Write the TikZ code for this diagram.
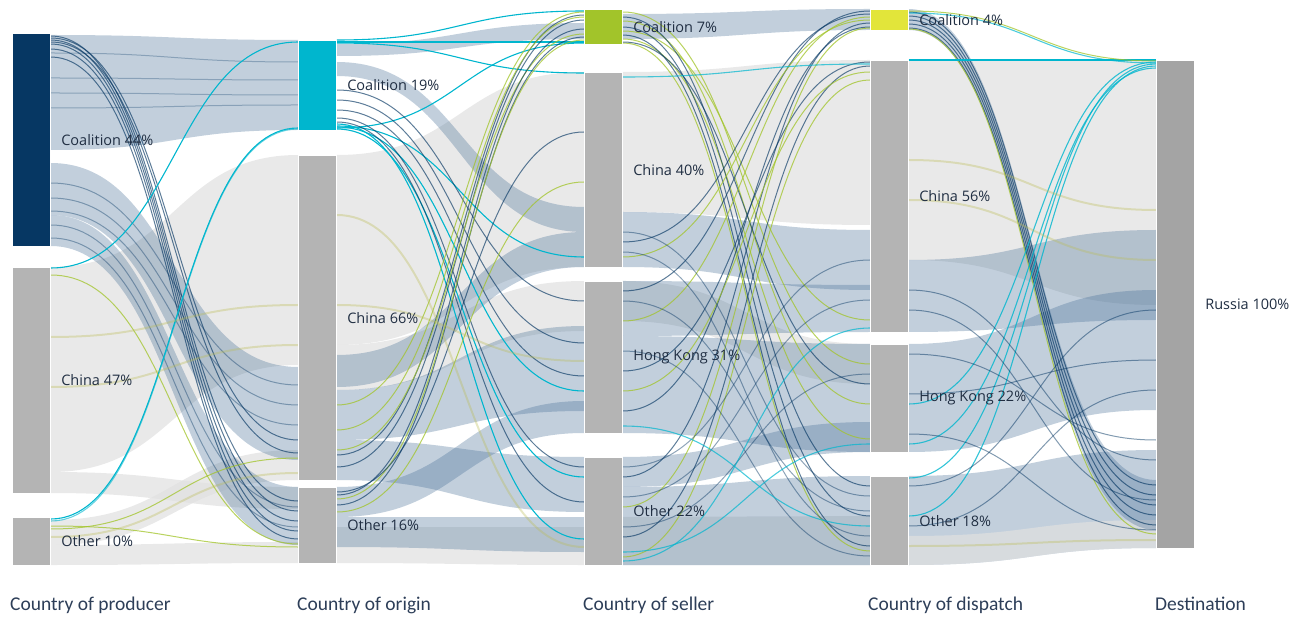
\documentclass[tikz,border=0pt]{standalone}
\usepackage{fontspec}
\setmainfont{Carlito}
\newfontfamily\lblfont{Open Sans}
\pgfdeclarelayer{flows}
\pgfsetlayers{flows,main}
\definecolor{navy}{RGB}{6,55,99}
\definecolor{coalcyan}{RGB}{0,182,206}
\definecolor{coalgreen}{RGB}{162,196,42}
\definecolor{coalyellow}{RGB}{226,229,58}
\definecolor{bargray}{RGB}{180,180,180}
\definecolor{rusgray}{RGB}{164,164,164}
\definecolor{flowblue}{RGB}{70,110,150}
\definecolor{ttlblue}{RGB}{45,62,88}
\definecolor{lblink}{RGB}{32,46,66}
% band from one bar to the next: src, top, bottom, dst, top, bottom, style
\newcommand\band[7]{\fill[#7] ([yshift={-#2*1pt}]#1.north east) .. controls +(124,0) and +(-124,0) .. ([yshift={-#5*1pt}]#4.north west) -- ([yshift={-#6*1pt}]#4.north west) .. controls +(-124,0) and +(124,0) .. ([yshift={-#3*1pt}]#1.north east) -- cycle;}
% single thin strand: src, offset, dst, offset, style
\newcommand\strand[5]{\draw[#5] ([yshift={-#2*1pt}]#1.north east) .. controls +(124,0) and +(-124,0) .. ([yshift={-#4*1pt}]#3.north west);}

\begin{document}
\begin{tikzpicture}[x=1pt,y=-1pt,
  barbox/.style={anchor=north west, minimum width=38pt, inner sep=0pt, draw=white, line width=.8pt},
  lbl/.style={label distance=7pt, font=\lblfont\fontsize{14.5}{16}\selectfont, text=lblink},
  ttl/.style={anchor=base west, inner sep=0pt, font=\fontsize{19.5}{22}\selectfont, text=ttlblue},
  graybnd/.style={fill=black!12, fill opacity=.7},
  bluebnd/.style={fill=flowblue, fill opacity=.33},
  navyln/.style={draw=navy, draw opacity=.65, line width=1pt},
  cyanln/.style={draw=coalcyan, line width=1.1pt},
  greenln/.style={draw=coalgreen, draw opacity=.75, line width=1pt},
  paleln/.style={draw=coalyellow!60!gray, draw opacity=.35, line width=2pt}]
\useasboundingbox (0,0) rectangle (1301,617);

% bars
\node[barbox, fill=navy, minimum height=213pt, label={[lbl]right:Coalition 44\%}] (p1) at (12,33) {};
\node[barbox, fill=bargray, minimum height=226pt, label={[lbl]right:China 47\%}] (p2) at (12,267) {};
\node[barbox, fill=bargray, minimum height=48pt, label={[lbl]right:Other 10\%}] (p3) at (12,517) {};
\node[barbox, fill=coalcyan, minimum height=90pt, label={[lbl]right:Coalition 19\%}] (o1) at (298,40) {};
\node[barbox, fill=bargray, minimum height=325pt, label={[lbl]right:China 66\%}] (o2) at (298,155) {};
\node[barbox, fill=bargray, minimum height=76pt, label={[lbl]right:Other 16\%}] (o3) at (298,487) {};
\node[barbox, fill=coalgreen, minimum height=35pt, label={[lbl]right:Coalition 7\%}] (s1) at (584,9) {};
\node[barbox, fill=bargray, minimum height=195pt, label={[lbl]right:China 40\%}] (s2) at (584,72) {};
\node[barbox, fill=bargray, minimum height=152pt, label={[lbl]right:Hong Kong 31\%}] (s3) at (584,281) {};
\node[barbox, fill=bargray, minimum height=108pt, label={[lbl]right:Other 22\%}] (s4) at (584,457) {};
\node[barbox, fill=coalyellow, minimum height=21pt, label={[lbl]right:Coalition 4\%}] (d1) at (870,9) {};
\node[barbox, fill=bargray, minimum height=272pt, label={[lbl]right:China 56\%}] (d2) at (870,60) {};
\node[barbox, fill=bargray, minimum height=108pt, label={[lbl]right:Hong Kong 22\%}] (d3) at (870,344) {};
\node[barbox, fill=bargray, minimum height=89pt, label={[lbl]right:Other 18\%}] (d4) at (870,476) {};
\node[barbox, fill=rusgray, minimum height=488pt, label={[lbl]right:Russia 100\%}] (r) at (1156,60) {};

% column titles
\node[ttl] (t1) at (10,610) {Country of producer};
\node[ttl] (t2) at (297,610) {Country of origin};
\node[ttl] (t3) at (583,610) {Country of seller};
\node[ttl] (t4) at (868,610) {Country of dispatch};
\node[ttl] (t5) at (1155,610) {Destination};

\begin{pgfonlayer}{flows}
% producer -> origin
\band{p2}{0}{205}{o2}{0}{210}{graybnd}
\band{p2}{205}{226}{o3}{0}{22}{graybnd}
\band{p3}{3}{28}{o2}{295}{325}{graybnd}
\band{p3}{28}{48}{o3}{55}{76}{graybnd}
\band{p1}{2}{117}{o1}{0}{90}{bluebnd}
\band{p1}{130}{182}{o2}{212}{305}{bluebnd}
\band{p1}{182}{213}{o3}{0}{58}{bluebnd}
\foreach \a/\b in {20/22,45/40,60/55,75/65} {\strand{p1}{\a}{o1}{\b}{navyln, draw opacity=.3}}
\foreach \a/\b in {150/230,165/250,178/270,192/20,205/40} {\strand{p1}{\a}{\ifnum\b<100 o3\else o2\fi}{\b}{navyln, draw opacity=.4}}
\foreach \a/\b in {3/14,7/24,11/34,16/44,24/52} {\strand{p1}{\a}{o3}{\b}{navyln}}
\foreach \a/\b in {5/285,9/298} {\strand{p1}{\a}{o2}{\b}{navyln}}
\strand{p2}{1}{o1}{2}{cyanln}
\strand{p3}{2}{o1}{88}{cyanln}
\strand{p3}{4}{o1}{89}{cyanln, draw opacity=.6}
\strand{p2}{8}{o3}{57}{greenln}
\strand{p2}{70}{o2}{150}{paleln}
\strand{p2}{120}{o2}{190}{paleln}
\strand{p3}{12}{o2}{303}{greenln}
\strand{p3}{9}{o3}{60}{greenln}
\strand{p3}{20}{o2}{318}{paleln}

% origin -> seller
\band{o2}{0}{190}{s2}{0}{195}{graybnd}
\band{o2}{190}{235}{s3}{0}{50}{graybnd}
\band{o3}{40}{76}{s4}{70}{108}{graybnd}
\band{o1}{4}{16}{s1}{14}{30}{bluebnd}
\band{o1}{22}{36}{s2}{135}{160}{bluebnd}
\band{o2}{200}{232}{s2}{160}{195}{bluebnd}
\band{o2}{235}{285}{s3}{45}{130}{bluebnd}
\band{o2}{285}{325}{s4}{0}{55}{bluebnd}
\band{o3}{0}{30}{s3}{120}{152}{bluebnd}
\band{o3}{30}{60}{s4}{60}{95}{bluebnd}
\strand{o1}{0}{s1}{2}{cyanln}
\strand{o1}{2}{s1}{33}{cyanln}
\strand{o1}{3}{s2}{1}{cyanln}
\strand{o1}{88}{s1}{34}{cyanln}
\strand{o1}{86}{s2}{185}{cyanln}
\strand{o1}{87}{s3}{110}{cyanln}
\strand{o1}{89}{s4}{20}{cyanln}
\strand{o1}{84}{s4}{82}{cyanln}
\foreach \a/\b in {50/20,60/62,70/95} {\strand{o1}{\a}{s3}{\b}{navyln}}
\foreach \a/\b in {78/10,82/45} {\strand{o1}{\a}{s4}{\b}{navyln}}
\foreach \a/\b in {300/6,312/11} {\strand{o2}{\a}{s1}{\b}{navyln}}
\foreach \a/\b in {250/3,275/8,295/25} {\strand{o2}{\a}{s1}{\b}{greenln}}
\foreach \a/\b in {8/20,18/28} {\strand{o3}{\a}{s1}{\b}{navyln}}
\strand{o3}{12}{s1}{31}{greenln}
\strand{o3}{25}{s2}{110}{greenln}
\strand{o3}{5}{s2}{60}{navyln}
\strand{o2}{150}{s3}{80}{paleln}
\strand{o2}{60}{s4}{90}{paleln}

% seller -> dispatch
\band{s2}{0}{140}{d2}{0}{165}{graybnd}
\band{s3}{0}{40}{d3}{0}{40}{graybnd}
\band{s4}{60}{108}{d4}{40}{89}{graybnd}
\band{s1}{5}{30}{d1}{0}{21}{bluebnd}
\band{s2}{140}{195}{d2}{170}{230}{bluebnd}
\band{s3}{0}{55}{d2}{225}{272}{bluebnd}
\band{s3}{55}{152}{d3}{0}{108}{bluebnd}
\band{s4}{0}{30}{d3}{78}{108}{bluebnd}
\band{s4}{30}{108}{d4}{0}{89}{bluebnd}
\foreach \a/\d/\b in {3/d3/20,12/d3/60,22/d2/260,30/d3/95,34/d4/75} {\strand{s1}{\a}{\d}{\b}{greenln}}
\foreach \a/\d/\b in {8/d4/10,18/d4/40,26/d4/70,33/d3/40} {\strand{s1}{\a}{\d}{\b}{navyln}}
\foreach \s/\a/\d/\b in {s3/10/d1/2,s4/20/d1/14,s3/90/d2/2,s4/80/d2/6,s2/170/d1/5,s3/130/d1/18} {\strand{\s}{\a}{\d}{\b}{navyln}}
\foreach \s/\a/\d/\b in {s3/40/d1/8,s4/50/d1/19,s3/110/d2/12,s4/100/d2/20,s2/185/d1/11} {\strand{\s}{\a}{\d}{\b}{greenln}}
\foreach \s/\a/\d/\b in {s2/160/d4/20,s2/180/d4/60,s3/20/d4/35,s4/10/d2/200,s4/40/d2/240,s3/70/d4/80,s4/70/d3/30} {\strand{\s}{\a}{\d}{\b}{navyln, draw opacity=.45}}
\foreach \s/\a/\d/\b in {s2/5/d2/4,s4/95/d3/100,s3/145/d4/50,s4/104/d2/268} {\strand{\s}{\a}{\d}{\b}{cyanln, draw opacity=.7}}

% dispatch -> destination
\band{d2}{0}{200}{r}{0}{245}{graybnd}
\band{d2}{200}{272}{r}{170}{260}{bluebnd}
\band{d3}{0}{108}{r}{230}{350}{bluebnd}
\band{d4}{0}{89}{r}{390}{488}{bluebnd}
\band{d4}{60}{89}{r}{460}{488}{graybnd}
\band{d1}{0}{21}{r}{420}{470}{bluebnd}
\foreach \a/\b in {3/425,7/435,11/445,15/455,19/465} {\strand{d1}{\a}{r}{\b}{navyln}}
\strand{d1}{20}{r}{474}{greenln}
\strand{d2}{0}{r}{0}{cyanln}
\strand{d1}{2}{r}{1}{greenln}
\strand{d1}{4}{r}{3}{cyanln, draw opacity=.7}
\foreach \s/\a/\b in {d4/2/4,d3/60/2,d4/40/6,d3/100/8} {\strand{\s}{\a}{r}{\b}{cyanln, draw opacity=.8}}
\foreach \s/\a/\b in {d3/10/380,d3/50/300,d3/90/470,d4/10/250,d4/50/330,d2/230/400,d2/250/440} {\strand{\s}{\a}{r}{\b}{navyln, draw opacity=.5}}
\strand{d2}{100}{r}{150}{paleln}
\strand{d2}{140}{r}{200}{paleln}
\strand{d4}{70}{r}{480}{paleln}
\end{pgfonlayer}
\end{tikzpicture}
\end{document}
